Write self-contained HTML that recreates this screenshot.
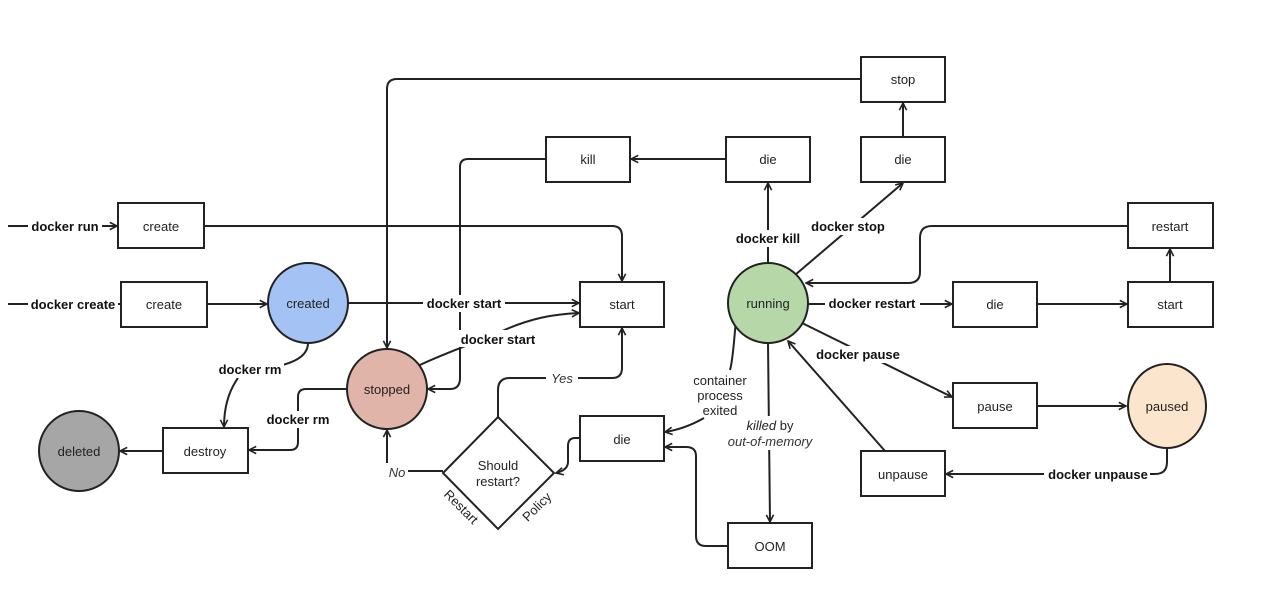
<!DOCTYPE html>
<html><head><meta charset="utf-8"><style>
html,body{margin:0;padding:0;background:#fff;}
svg{display:block;}
text{font-family:"Liberation Sans",sans-serif;font-size:13px;fill:#222;}
.b{font-weight:bold;font-size:13px;fill:#111;}
.i{font-style:italic;fill:#333;}
.bx{fill:#fff;stroke:#222;stroke-width:2;}
.ln{fill:none;stroke:#222;stroke-width:2;}
</style></head><body>
<svg width="1280" height="590" viewBox="0 0 1280 590" xmlns="http://www.w3.org/2000/svg">
<defs>
<marker id="a" viewBox="0 0 10 10" refX="9" refY="5" markerWidth="9" markerHeight="9" markerUnits="userSpaceOnUse" orient="auto">
<path d="M1,1 L9,5 L1,9" fill="none" stroke="#222" stroke-width="1.8"/>
</marker>
</defs>

<g class="ln">
<path d="M8,226 H117" marker-end="url(#a)"/>
<path d="M8,304 H120"/>
<path d="M204,226 H612 Q622,226 622,236 V281" marker-end="url(#a)"/>
<path d="M207,304 H267" marker-end="url(#a)"/>
<path d="M348,303 H579" marker-end="url(#a)"/>
<path d="M418,366 C440,355 470,345 500,332 C530,318 555,314 579,313" marker-end="url(#a)"/>
<path d="M308,343 C308,358 290,364 270,368"/>
<path d="M238,378 C228,392 224,408 224,427" marker-end="url(#a)"/>
<path d="M347,389 H306 Q298,389 298,397 V442 Q298,450 290,450 H249" marker-end="url(#a)"/>
<path d="M163,451 H120" marker-end="url(#a)"/>
<path d="M861,79 H397 Q387,79 387,89 V348" marker-end="url(#a)"/>
<path d="M546,159 H468 Q460,159 460,167 V378 Q460,389 450,389 H428" marker-end="url(#a)"/>
<path d="M726,159 H631" marker-end="url(#a)"/>
<path d="M768,263 V183" marker-end="url(#a)"/>
<path d="M795,275 L903,183" marker-end="url(#a)"/>
<path d="M903,137 V103" marker-end="url(#a)"/>
<path d="M1128,226 H932 Q920,226 920,238 V272 Q920,283 908,283 H806" marker-end="url(#a)"/>
<path d="M808,304 H952" marker-end="url(#a)"/>
<path d="M1037,304 H1127" marker-end="url(#a)"/>
<path d="M1170,282 V249" marker-end="url(#a)"/>
<path d="M800,322 L952,397" marker-end="url(#a)"/>
<path d="M1037,406 H1126" marker-end="url(#a)"/>
<path d="M1167,448 V462 Q1167,474 1155,474 H946" marker-end="url(#a)"/>
<path d="M885,451 L788,341" marker-end="url(#a)"/>
<path d="M768,343 L770,522" marker-end="url(#a)"/>
<path d="M736,320 C734,340 733,360 730,370"/>
<path d="M704,418 C690,426 678,430 665,432" marker-end="url(#a)"/>
<path d="M728,546 H706 Q696,546 696,536 V456 Q696,447 686,447 H665" marker-end="url(#a)"/>
<path d="M580,438 H575 Q568,438 568,446 V462 Q568,470 556,473" marker-end="url(#a)"/>
<path d="M498,417 V390 Q498,378 510,378 H612 Q622,378 622,368 V328" marker-end="url(#a)"/>
<path d="M443,471 H387 V430" marker-end="url(#a)"/>
</g>

<rect class="bx" x="118" y="203" width="86" height="45"/><text x="161" y="231" text-anchor="middle">create</text>
<rect class="bx" x="121" y="282" width="86" height="45"/><text x="164" y="309" text-anchor="middle">create</text>
<rect class="bx" x="163" y="428" width="85" height="45"/><text x="205" y="456" text-anchor="middle">destroy</text>
<rect class="bx" x="580" y="282" width="84" height="45"/><text x="622" y="309" text-anchor="middle">start</text>
<rect class="bx" x="546" y="137" width="84" height="45"/><text x="588" y="164" text-anchor="middle">kill</text>
<rect class="bx" x="726" y="137" width="84" height="45"/><text x="768" y="164" text-anchor="middle">die</text>
<rect class="bx" x="861" y="137" width="84" height="45"/><text x="903" y="164" text-anchor="middle">die</text>
<rect class="bx" x="861" y="57" width="84" height="45"/><text x="903" y="84" text-anchor="middle">stop</text>
<rect class="bx" x="1128" y="203" width="85" height="45"/><text x="1170" y="231" text-anchor="middle">restart</text>
<rect class="bx" x="953" y="282" width="84" height="45"/><text x="995" y="309" text-anchor="middle">die</text>
<rect class="bx" x="1128" y="282" width="85" height="45"/><text x="1170" y="309" text-anchor="middle">start</text>
<rect class="bx" x="953" y="383" width="84" height="45"/><text x="995" y="411" text-anchor="middle">pause</text>
<rect class="bx" x="861" y="451" width="84" height="45"/><text x="903" y="479" text-anchor="middle">unpause</text>
<rect class="bx" x="580" y="416" width="84" height="45"/><text x="622" y="444" text-anchor="middle">die</text>
<rect class="bx" x="728" y="523" width="84" height="45"/><text x="770" y="551" text-anchor="middle">OOM</text>

<polygon class="bx" points="498,417 554,473 498,529 443,473"/>
<text x="498" y="470" text-anchor="middle">Should</text>
<text x="498" y="486" text-anchor="middle">restart?</text>
<text transform="translate(458,510) rotate(45)" text-anchor="middle">Restart</text>
<text transform="translate(540,510) rotate(-45)" text-anchor="middle">Policy</text>

<ellipse cx="308" cy="303" rx="40" ry="40" fill="#a4c2f4" stroke="#222" stroke-width="2"/><text x="308" y="308" text-anchor="middle">created</text>
<ellipse cx="387" cy="389" rx="40" ry="40" fill="#e0b4a8" stroke="#222" stroke-width="2"/><text x="387" y="394" text-anchor="middle">stopped</text>
<ellipse cx="79" cy="451" rx="40" ry="40" fill="#a6a6a6" stroke="#222" stroke-width="2"/><text x="79" y="456" text-anchor="middle">deleted</text>
<ellipse cx="768" cy="303" rx="40" ry="40" fill="#b6d7a8" stroke="#222" stroke-width="2"/><text x="768" y="308" text-anchor="middle">running</text>
<ellipse cx="1167" cy="406" rx="39" ry="42" fill="#fce5cd" stroke="#222" stroke-width="2"/><text x="1167" y="411" text-anchor="middle">paused</text>

<g>
<rect x="28" y="217" width="74" height="17" fill="#fff"/><text class="b" x="65" y="231" text-anchor="middle">docker run</text>
<rect x="28" y="295" width="90" height="17" fill="#fff"/><text class="b" x="73" y="309" text-anchor="middle">docker create</text>
<rect x="423" y="295" width="82" height="17" fill="#fff"/><text class="b" x="464" y="308" text-anchor="middle">docker start</text>
<rect x="457" y="330" width="82" height="17" fill="#fff"/><text class="b" x="498" y="344" text-anchor="middle">docker start</text>
<rect x="216" y="361" width="68" height="17" fill="#fff"/><text class="b" x="250" y="374" text-anchor="middle">docker rm</text>
<rect x="264" y="411" width="68" height="17" fill="#fff"/><text class="b" x="298" y="424" text-anchor="middle">docker rm</text>
<rect x="732" y="230" width="72" height="17" fill="#fff"/><text class="b" x="768" y="243" text-anchor="middle">docker kill</text>
<rect x="806" y="218" width="84" height="17" fill="#fff"/><text class="b" x="848" y="231" text-anchor="middle">docker stop</text>
<rect x="825" y="295" width="95" height="17" fill="#fff"/><text class="b" x="872" y="308" text-anchor="middle">docker restart</text>
<rect x="812" y="346" width="92" height="17" fill="#fff"/><text class="b" x="858" y="359" text-anchor="middle">docker pause</text>
<rect x="1044" y="465" width="106" height="17" fill="#fff"/><text class="b" x="1098" y="479" text-anchor="middle">docker unpause</text>
<rect x="546" y="370" width="32" height="16" fill="#fff"/><text class="i" x="562" y="383" text-anchor="middle">Yes</text>
<rect x="386" y="463" width="22" height="16" fill="#fff"/><text class="i" x="397" y="477" text-anchor="middle">No</text>
<rect x="728" y="416" width="86" height="34" fill="#fff"/>
<text x="770" y="430" text-anchor="middle"><tspan font-style="italic">killed</tspan> by</text>
<text class="i" x="770" y="446" text-anchor="middle">out-of-memory</text>
<rect x="692" y="372" width="56" height="44" fill="#fff"/>
<text x="720" y="385" text-anchor="middle">container</text>
<text x="720" y="400" text-anchor="middle">process</text>
<text x="720" y="415" text-anchor="middle">exited</text>
</g>
</svg>
</body></html>
